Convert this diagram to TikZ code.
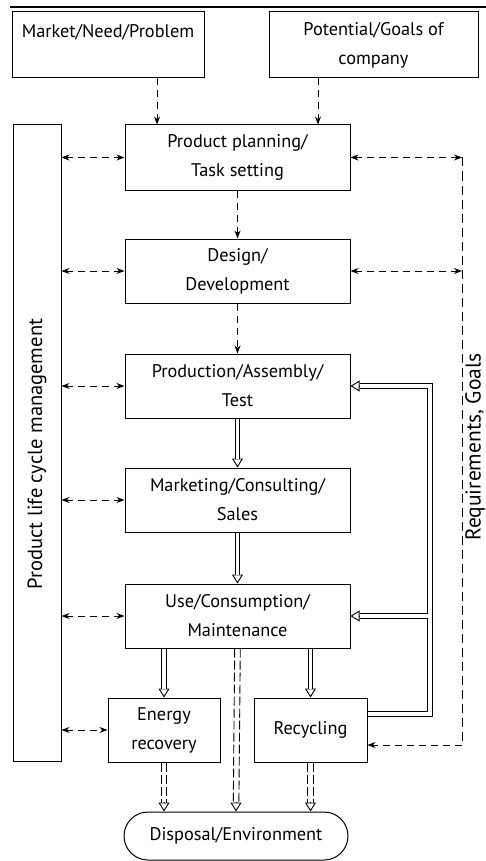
\documentclass[tikz,border=0pt]{standalone}
\usepackage{fontspec}
\setmainfont{PT Sans}
\usetikzlibrary{arrows.meta,calc}
\begin{document}
\begin{tikzpicture}[x=1pt,y=-1pt,
  txt/.style={font=\fontsize{18.3}{29}\selectfont},
  box/.style={draw, line width=1pt, minimum width=225pt, minimum height=64pt, align=center, inner sep=2pt, txt},
  dasha/.style={line width=1pt, dash pattern=on 7pt off 5pt, -{Stealth[length=8pt,width=6pt]}},
  dashb/.style={line width=1pt, dash pattern=on 7pt off 5pt, {Stealth[length=8pt,width=6pt]}-{Stealth[length=8pt,width=6pt]}},
  dbl/.style={line width=0.9pt, double, double distance=3.8pt, line join=miter},
  ddash/.style={line width=0.9pt, dash pattern=on 9pt off 3pt, shorten >=9pt},
  hd/.style={line width=0.9pt, -{Triangle[open,length=9pt,width=11pt]}},
]
\useasboundingbox (0,0) rectangle (486,861);
\fill[white] (0,0) rectangle (486,861);
% top rule
\draw[line width=2.6pt] (10,7) -- (486,7);
% boxes
\node[box, minimum width=192pt, minimum height=66pt] (market) at (108,45) {Market/Need/Problem\\\mbox{}};
\node[box, minimum width=209pt, minimum height=66pt] (potential) at (373.5,45) {Potential/Goals of\\company};
\node[box, minimum height=65pt] (plan) at (237.5,157.5) {Product planning/\\Task setting};
\node[box] (design) at (237.5,271) {Design/\\Development};
\node[box] (prod) at (237.5,386) {Production/Assembly/\\Test};
\node[box] (mkt) at (237.5,500) {Marketing/Consulting/\\Sales};
\node[box] (use) at (237.5,616) {Use/Consumption/\\Maintenance};
\node[box, minimum width=112pt] (energy) at (164,730) {Energy\\recovery};
\node[box, minimum width=113pt] (recy) at (310.5,730) {Recycling};
\node[box, minimum width=224pt, minimum height=48pt, rounded corners=24pt] (disp) at (236,836) {Disposal/Environment};
\node[draw, line width=1pt, minimum width=48pt, minimum height=636pt, inner sep=0pt] (bar) at (37,443) {};
\node[font=\fontsize{20.5}{24}\selectfont, rotate=90] (barlabel) at (37,454) {Product life cycle management};
\node[font=\fontsize{21.5}{26}\selectfont, rotate=90, inner sep=0pt] (req) at (475,447) {Requirements, Goals};
% helper coordinates
\coordinate (mA) at (157,0);
\coordinate (pA) at (318,0);
\coordinate (R) at (462,0);
\coordinate (fx) at (430,0);
\coordinate (rin) at ([yshift=-15pt]recy.east);
\coordinate (fbout) at ([yshift=16pt]recy.east);
% top dashed arrows
\draw[dasha] (market.south -| mA) -- (plan.north -| mA);
\draw[dasha] (potential.south -| pA) -- (plan.north -| pA);
\draw[dasha] (plan.south) -- (design.north);
\draw[dasha] (design.south) -- (prod.north);
% left bar arrows
\foreach \n in {plan,design,prod,mkt,use,energy}
  \draw[dashb] (bar.east |- \n.west) -- (\n.west);
% right dashed line
\draw[dashb] (plan.east) -- (plan.east -| R);
\draw[dashb] (design.east) -- (design.east -| R);
\draw[line width=1pt, dash pattern=on 9pt off 5pt] (plan.east -| R) -- (rin -| R);
\draw[dasha] (rin -| R) -- (rin);
% hollow heads (drawn first)
\draw[hd] ([yshift=10pt]mkt.north) -- (mkt.north);
\draw[hd] ([yshift=10pt]use.north) -- (use.north);
\draw[hd] ([yshift=10pt]energy.north) -- (energy.north);
\draw[hd] ([yshift=10pt]recy.north) -- (recy.north);
\draw[hd] ([yshift=10pt]disp.north) -- (disp.north);
\draw[hd] ([yshift=10pt]energy.south |- disp.north) -- (energy.south |- disp.north);
\draw[hd] ([yshift=10pt]recy.south |- disp.north) -- (recy.south |- disp.north);
\draw[hd] ([xshift=10pt]prod.east) -- (prod.east);
\draw[hd] ([xshift=10pt]use.east) -- (use.east);
% double shafts
\draw[dbl, shorten >=9pt] (prod.south) -- (mkt.north);
\draw[dbl, shorten >=9pt] (mkt.south) -- (use.north);
\draw[dbl, shorten >=9pt] (use.south -| energy.north) -- (energy.north);
\draw[dbl, shorten >=9pt] (use.south -| recy.north) -- (recy.north);
% double dashed shafts
\foreach \s in {-2.8,2.8} {
  \draw[ddash] ([xshift=\s pt]use.south) -- ([xshift=\s pt]disp.north);
  \draw[ddash] ([xshift=\s pt]energy.south) -- ([xshift=\s pt]energy.south |- disp.north);
  \draw[ddash] ([xshift=\s pt]recy.south) -- ([xshift=\s pt]recy.south |- disp.north);
}
% feedback loop
\draw[dbl, shorten >=9pt] (fbout) -- (fbout -| fx) -- (prod.east -| fx) -- (prod.east);
\draw[dbl, shorten >=9pt] ([xshift=-2.35pt]use.east -| fx) -- (use.east);
\end{tikzpicture}
\end{document}
